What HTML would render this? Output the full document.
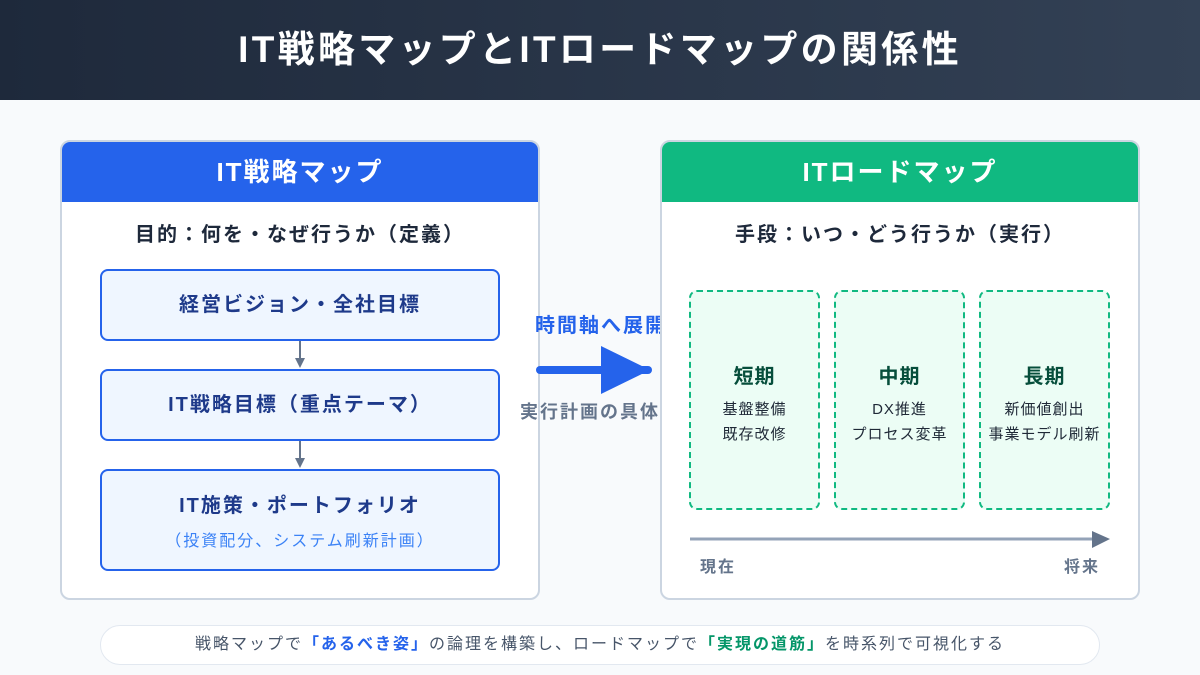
<!DOCTYPE html>
<html><head><meta charset="utf-8"><style>
*{margin:0;padding:0;box-sizing:border-box}
body{width:1200px;height:675px;background:#f8fafc;font-family:"Liberation Sans","Noto Sans CJK JP",sans-serif;position:relative;overflow:hidden;letter-spacing:2px}
.a{position:absolute}
.hdr{left:0;top:0;width:1200px;height:100px;background:linear-gradient(90deg,#1e293b,#334155);color:#fff;font-size:37px;font-weight:bold;text-align:center;line-height:100px;letter-spacing:3.3px}
.panel{top:140px;width:480px;height:460px;background:#fff;border:2px solid #cbd5e1;border-radius:10px;overflow:hidden}
.ph{left:0;top:0;width:100%;height:60px;color:#fff;font-size:26px;font-weight:bold;text-align:center;line-height:60px}
.sub{left:0;width:100%;text-align:center;font-size:20px;font-weight:bold;color:#1e293b}
.box{left:100px;width:400px;border:2px solid #2563eb;background:#eff6ff;border-radius:8px;text-align:center;color:#1e3a8a;font-size:20px;font-weight:bold}
.dash{top:290px;width:131px;height:220px;border:2px dashed #10b981;background:#ecfdf5;border-radius:8px;text-align:center;letter-spacing:1px}
.dash b{display:block;margin-top:68px;font-size:20px;color:#064e3b}
.dash span{display:block;font-size:15px;color:#1f2937;line-height:25px;margin-top:8px}
</style></head><body>
<div class="a hdr">IT戦略マップとITロードマップの関係性</div>

<div class="a panel" style="left:60px">
<div class="a ph" style="background:#2563eb">IT戦略マップ</div>
<div class="a sub" style="top:76px">目的：何を・なぜ行うか（定義）</div>
</div>
<div class="a box" style="top:269px;height:72px;line-height:68px">経営ビジョン・全社目標</div>
<div class="a box" style="top:369px;height:72px;line-height:68px">IT戦略目標（重点テーマ）</div>
<div class="a box" style="top:469px;height:102px"><div style="margin-top:20px;line-height:30px">IT施策・ポートフォリオ</div><div style="font-size:16px;font-weight:normal;color:#3b82f6;margin-top:6px">（投資配分、システム刷新計画）</div></div>
<svg class="a" style="left:0;top:0" width="1200" height="675">
<g stroke="#64748b" stroke-width="2" fill="#64748b"><line x1="300" y1="341" x2="300" y2="360"/><polygon points="295,358 305,358 300,368" stroke="none"/><line x1="300" y1="441" x2="300" y2="460"/><polygon points="295,458 305,458 300,468" stroke="none"/></g>
</svg>

<div class="a" style="left:535px;top:309px;font-size:20px;font-weight:bold;color:#2563eb;white-space:nowrap">時間軸へ展開</div>
<div class="a" style="left:520px;top:398px;font-size:18px;font-weight:bold;color:#64748b;white-space:nowrap">実行計画の具体化</div>
<svg class="a" style="left:0;top:0" width="1200" height="675">
<line x1="540" y1="370" x2="648" y2="370" stroke="#2563eb" stroke-width="8" stroke-linecap="round"/>
<polygon points="601,346 601,394 650,370" fill="#2563eb"/>
</svg>

<div class="a panel" style="left:660px">
<div class="a ph" style="background:#10b981">ITロードマップ</div>
<div class="a sub" style="top:76px">手段：いつ・どう行うか（実行）</div>
</div>
<div class="a dash" style="left:689px"><b>短期</b><span>基盤整備<br>既存改修</span></div>
<div class="a dash" style="left:834px"><b>中期</b><span>DX推進<br>プロセス変革</span></div>
<div class="a dash" style="left:979px"><b>長期</b><span>新価値創出<br>事業モデル刷新</span></div>
<svg class="a" style="left:0;top:0" width="1200" height="675">
<line x1="690" y1="539" x2="1096" y2="539" stroke="#94a3b8" stroke-width="3"/>
<polygon points="1092,531 1092,548 1110,539" fill="#64748b"/>
</svg>
<div class="a" style="left:700px;top:553px;font-size:16px;font-weight:bold;color:#64748b">現在</div>
<div class="a" style="left:1064px;top:553px;font-size:16px;font-weight:bold;color:#64748b">将来</div>

<div class="a" style="left:100px;top:625px;width:1000px;height:40px;background:#fff;border:1px solid #e2e8f0;border-radius:20px;text-align:center;line-height:38px;font-size:16px;color:#475569">戦略マップで<b style="color:#2563eb">「あるべき姿」</b>の論理を構築し、ロードマップで<b style="color:#059669">「実現の道筋」</b>を時系列で可視化する</div>
</body></html>
